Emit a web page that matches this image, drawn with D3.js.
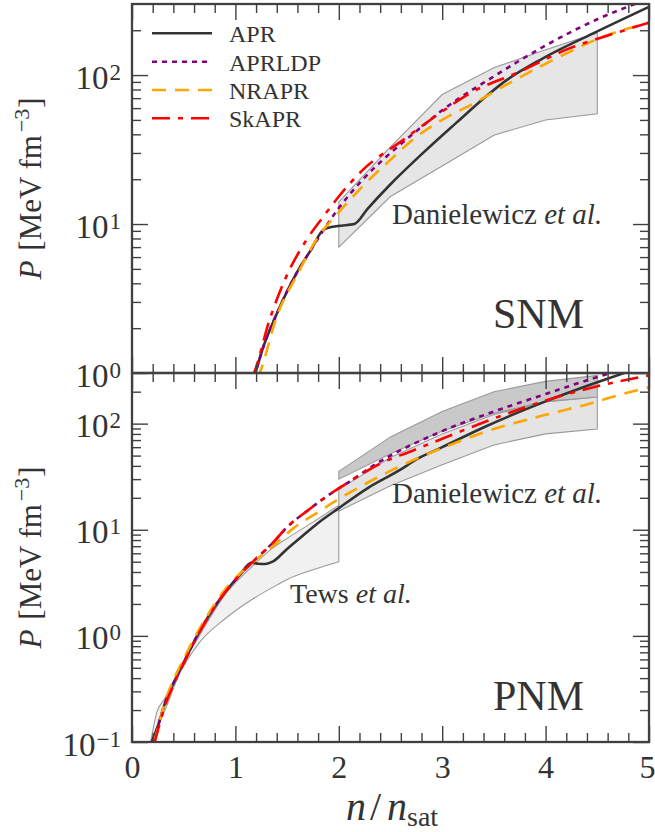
<!DOCTYPE html>
<html><head><meta charset="utf-8">
<script src="https://cdn.jsdelivr.net/npm/d3@7"></script>
<style>
body{margin:0;background:#fff}
svg{display:block}
text{font-family:"Liberation Serif","Times New Roman",serif;fill:#333}
</style>
</head><body>
<svg id="c" width="655" height="832"></svg>
<script>
// ---------------- DATA ----------------
const xTickValues = [0, 1, 2, 3, 4, 5];
const yMajorSNM = [1, 10, 100];
const yMajorPNM = [0.1, 1, 10, 100];
const seriesNames = ["APR", "APRLDP", "NRAPR", "SkAPR"];

// Symmetric nuclear matter (upper panel)
const aprSNM_n    = [1.17, 1.19, 1.27, 1.40, 1.59, 1.73, 1.856, 1.99, 2.15, 2.28, 2.50, 2.81, 3.13, 3.42, 3.58, 3.97, 4.49, 5.0];
const aprSNM_p    = [0.93, 1.0, 1.5, 2.5, 4.67, 6.7, 9.2, 9.7, 10.0, 12.7, 18.5, 29.8, 47.4, 71.5, 88, 129, 195, 287];
const aprldpSNM_n = [1.17, 1.19, 1.27, 1.40, 1.59, 1.73, 1.856, 2.0, 2.25, 2.5, 2.75, 3.0, 3.5, 4.0, 4.5, 5.0];
const aprldpSNM_p = [0.93, 1.0, 1.5, 2.5, 4.67, 6.7, 9.2, 12.8, 20.5, 30, 42, 58, 98, 158, 237, 325];
const nraprSNM_n  = [1.215, 1.235, 1.4, 1.6, 1.8, 2.0, 2.25, 2.5, 2.75, 3.0, 3.33, 3.58, 4.07, 4.55, 5.0];
const nraprSNM_p  = [0.93, 1.0, 2.4, 4.6, 8.2, 12.0, 18.5, 27, 38.5, 50, 66, 83, 126, 180, 225];
const skaprSNM_n  = [1.16, 1.18, 1.33, 1.49, 1.686, 1.85, 2.0, 2.23, 2.62, 2.97, 3.26, 3.745, 4.23, 4.61, 5.0];
const skaprSNM_p  = [0.93, 1.0, 2.27, 4.4, 7.8, 11.2, 15.3, 23, 36.6, 55, 75, 105, 151, 185, 225];

// Danielewicz et al. flow constraint, SNM
const danSNM_n     = [2.0, 2.5, 3.0, 3.5, 4.0, 4.5];
const danSNM_lower = [7.0, 15.3, 24.5, 39.5, 50, 55];
const danSNM_upper = [14.1, 33, 74, 112, 148, 192];

// Pure neutron matter (lower panel)
const aprPNM_n    = [0.19, 0.24, 0.32, 0.42, 0.515, 0.61, 0.74, 0.87, 1.03, 1.16, 1.22, 1.29, 1.36, 1.5, 1.64, 1.8, 2.0, 2.28, 2.6, 2.75, 3.0, 3.42, 4.0, 4.5, 5.0];
const aprPNM_p    = [0.1, 0.131, 0.234, 0.39, 0.60, 0.92, 1.53, 2.36, 3.64, 4.9, 4.78, 4.76, 5.0, 6.6, 8.6, 11.6, 16.0, 24.7, 37, 46, 60, 94, 162, 245, 360];
const aprldpPNM_n = [0.20, 0.24, 0.32, 0.42, 0.515, 0.61, 0.74, 0.87, 1.03, 1.16, 1.36, 1.5, 1.7, 1.9, 2.1, 2.4, 2.5, 3.0, 3.5, 4.0, 4.5, 5.0];
const aprldpPNM_p = [0.1, 0.131, 0.234, 0.39, 0.60, 0.92, 1.53, 2.36, 3.64, 4.9, 7.5, 10.6, 15.2, 21.2, 28.3, 44, 50, 85, 130, 190, 275, 380];
const nraprPNM_n  = [0.215, 0.26, 0.32, 0.42, 0.515, 0.61, 0.74, 0.87, 1.03, 1.16, 1.36, 1.56, 1.83, 2.0, 2.3, 2.6, 2.84, 3.13, 3.42, 3.71, 4.07, 4.39, 4.71, 5.0];
const nraprPNM_p  = [0.1, 0.145, 0.24, 0.42, 0.65, 0.98, 1.62, 2.5, 3.75, 4.85, 7.0, 10.3, 15.3, 19.5, 28.5, 40, 51, 66, 84, 102, 126, 151, 186, 220];
const skaprPNM_n  = [0.22, 0.26, 0.32, 0.42, 0.515, 0.61, 0.74, 0.87, 1.03, 1.16, 1.36, 1.5, 1.7, 1.9, 2.1, 2.4, 2.7, 3.0, 3.5, 4.0, 4.5, 5.0];
const skaprPNM_p  = [0.1, 0.14, 0.22, 0.38, 0.59, 0.91, 1.52, 2.36, 3.64, 4.9, 7.5, 10.6, 15.2, 21.2, 28.3, 42, 55, 72, 112, 165, 225, 285];

// Tews et al. band (PNM)
const tews_n     = [0.18, 0.24, 0.32, 0.45, 0.65, 0.9, 1.16, 1.35, 1.5, 1.75, 2.0];
const tews_lower = [0.1, 0.14, 0.2, 0.42, 0.86, 1.45, 2.2, 2.83, 3.4, 4.2, 5.0];
const tews_upper = [0.1, 0.19, 0.26, 0.47, 1.0, 2.45, 4.5, 6.6, 8.3, 11.8, 17];

// Danielewicz et al. bands (PNM): soft and stiff
const danPNM_n         = [2.0, 2.5, 3.0, 3.5, 4.0, 4.5];
const danPNMsoft_lower = [15, 26, 41, 63, 80, 89];
const danPNMsoft_upper = [24, 48, 80, 122, 160, 178];
const danPNMstiff_lower = [30, 52, 85, 125, 162, 178];
const danPNMstiff_upper = [35.5, 75, 130, 200, 250, 285];

// ---------------- LAYOUT ----------------
const L = 132, R = 649;
const topA = 4, botA = 373, topB = 373, botB = 742;
const frameColor = "#404040";
const font = "'Liberation Serif','Times New Roman',serif";

const svg = d3.select("#c");
const x = d3.scaleLinear().domain([0, 5]).range([L, R]);
const ySNM = d3.scaleLog().domain([1, 300]).range([botA, topA]);
const yPNM = d3.scaleLog().domain([0.1, 300]).range([botB, topB]);

const styles = {
  APR:    {color: "#333333", dash: null},
  APRLDP: {color: "#800080", dash: "5,5"},
  NRAPR:  {color: "#FFA500", dash: "14,9"},
  SkAPR:  {color: "#FF0000", dash: "18,8,5,8"}
};

const defs = svg.append("defs");
function clip(id, top, bot) {
  defs.append("clipPath").attr("id", id).append("rect")
    .attr("x", L).attr("y", top).attr("width", R - L).attr("height", bot - top);
}
clip("clipA", topA, botA);
clip("clipB", topB, botB);

function zip(ns, ps) { return ns.map((n, i) => ({n: n, p: ps[i]})); }
function zip3(ns, lo, hi) { return ns.map((n, i) => ({n: n, lo: lo[i], hi: hi[i]})); }

function drawBand(g, yS, ns, lo, hi, fill, curve) {
  const area = d3.area().x(d => x(d.n)).y0(d => yS(d.lo)).y1(d => yS(d.hi)).curve(curve || d3.curveLinear);
  g.append("path").datum(zip3(ns, lo, hi)).attr("d", area)
    .attr("fill", fill).attr("stroke", "#9a9a9a").attr("stroke-width", 1.1);
}
function drawCurve(g, yS, ns, ps, name) {
  const line = d3.line().x(d => x(d.n)).y(d => yS(d.p)).curve(d3.curveMonotoneX);
  const st = styles[name];
  g.append("path").datum(zip(ns, ps)).attr("d", line)
    .attr("fill", "none").attr("stroke", st.color).attr("stroke-width", 2.6)
    .attr("stroke-dasharray", st.dash);
}

// ---------- Upper panel (SNM) ----------
const gA = svg.append("g").attr("clip-path", "url(#clipA)");
drawBand(gA, ySNM, danSNM_n, danSNM_lower, danSNM_upper, "#e6e6e6");
drawCurve(gA, ySNM, aprSNM_n, aprSNM_p, "APR");
drawCurve(gA, ySNM, aprldpSNM_n, aprldpSNM_p, "APRLDP");
drawCurve(gA, ySNM, nraprSNM_n, nraprSNM_p, "NRAPR");
drawCurve(gA, ySNM, skaprSNM_n, skaprSNM_p, "SkAPR");

// ---------- Lower panel (PNM) ----------
const gB = svg.append("g").attr("clip-path", "url(#clipB)");
drawBand(gB, yPNM, tews_n, tews_lower, tews_upper, "#f1f1f1", d3.curveMonotoneX);
drawBand(gB, yPNM, danPNM_n, danPNMsoft_lower, danPNMsoft_upper, "#e4e4e4");
drawBand(gB, yPNM, danPNM_n, danPNMstiff_lower, danPNMstiff_upper, "#c9c9c9");
drawCurve(gB, yPNM, aprPNM_n, aprPNM_p, "APR");
drawCurve(gB, yPNM, aprldpPNM_n, aprldpPNM_p, "APRLDP");
drawCurve(gB, yPNM, nraprPNM_n, nraprPNM_p, "NRAPR");
drawCurve(gB, yPNM, skaprPNM_n, skaprPNM_p, "SkAPR");

// ---------- Axes ----------
const xMinor = d3.range(0, 5.0001, 0.2).filter(v => Math.abs(v - Math.round(v)) > 1e-6);
function minorLog(domain) {
  const out = [];
  const lo = Math.round(Math.log10(domain[0])), hi = Math.ceil(Math.log10(domain[1]));
  for (let e = lo; e < hi; e++) for (let m = 2; m <= 9; m++) {
    const v = m * Math.pow(10, e);
    if (v < domain[1] * 0.999) out.push(v);
  }
  return out;
}
function styleAxis(sel) {
  sel.select(".domain").remove();
  sel.selectAll(".tick line").attr("stroke", frameColor).attr("stroke-width", 1.4);
  sel.attr("font-family", font);
}
function expLabel(d) {
  const e = Math.round(Math.log10(d));
  return (e < 0 ? "\u2212" : "") + Math.abs(e);
}

function panelAxes(yS, top, bot, majors, showX) {
  const g = svg.append("g");
  const xb = g.append("g").attr("transform", `translate(0,${bot})`)
    .call(d3.axisBottom(x).tickValues(xTickValues).tickSize(-16).tickSizeOuter(0)
      .tickFormat(showX ? d3.format("d") : ""));
  styleAxis(xb);
  xb.selectAll(".tick text").attr("y", 36).attr("dy", 0).attr("font-size", 32).attr("fill", "#333")
    .attr("text-anchor", d => d === 5 ? "end" : "middle")
    .attr("x", d => d === 5 ? 655 - R : 0);
  styleAxis(g.append("g").attr("transform", `translate(0,${bot})`)
    .call(d3.axisBottom(x).tickValues(xMinor).tickSize(-9).tickSizeOuter(0).tickFormat("")));
  styleAxis(g.append("g").attr("transform", `translate(0,${top})`)
    .call(d3.axisTop(x).tickValues(xTickValues).tickSize(-16).tickSizeOuter(0).tickFormat("")));
  styleAxis(g.append("g").attr("transform", `translate(0,${top})`)
    .call(d3.axisTop(x).tickValues(xMinor).tickSize(-9).tickSizeOuter(0).tickFormat("")));
  const yl = g.append("g").attr("transform", `translate(${L},0)`)
    .call(d3.axisLeft(yS).tickValues(majors).tickSize(-16).tickSizeOuter(0).tickFormat(""));
  styleAxis(yl);
  yl.selectAll(".tick text").each(function(d) {
    const t = d3.select(this);
    t.text(null).attr("x", -11).attr("y", 13).attr("dy", 0)
      .attr("text-anchor", "end").attr("font-size", 33).attr("fill", "#333");
    t.append("tspan").text("10");
    t.append("tspan").attr("dy", -9).attr("dx", 1).attr("font-size", 23).text(expLabel(d));
  });
  styleAxis(g.append("g").attr("transform", `translate(${L},0)`)
    .call(d3.axisLeft(yS).tickValues(minorLog(yS.domain())).tickSize(-9).tickSizeOuter(0).tickFormat("")));
  styleAxis(g.append("g").attr("transform", `translate(${R},0)`)
    .call(d3.axisRight(yS).tickValues(majors).tickSize(-16).tickSizeOuter(0).tickFormat("")));
  styleAxis(g.append("g").attr("transform", `translate(${R},0)`)
    .call(d3.axisRight(yS).tickValues(minorLog(yS.domain())).tickSize(-9).tickSizeOuter(0).tickFormat("")));
  g.append("rect").attr("x", L).attr("y", top).attr("width", R - L).attr("height", bot - top)
    .attr("fill", "none").attr("stroke", frameColor).attr("stroke-width", 2.3);
}
panelAxes(ySNM, topA, botA, yMajorSNM, false);
panelAxes(yPNM, topB, botB, yMajorPNM, true);

// ---------- Y axis labels ----------
function yLabel(cy) {
  const t = svg.append("text").attr("transform", `translate(41,${cy}) rotate(-90)`)
    .attr("text-anchor", "middle").attr("font-size", 31).attr("fill", "#333");
  t.append("tspan").attr("font-style", "italic").text("P");
  t.append("tspan").attr("dx", 10).text("[MeV");
  t.append("tspan").attr("dx", 7).text("fm");
  t.append("tspan").attr("font-size", 22).attr("dy", -12).attr("dx", 3).text("\u22123");
  t.append("tspan").attr("dy", 12).attr("dx", 1).text("]");
}
yLabel((topA + botA) / 2);
yLabel((topB + botB) / 2);

// ---------- X axis label ----------
const xl = svg.append("text").attr("x", 392).attr("y", 820).attr("text-anchor", "middle")
  .attr("font-size", 40).attr("fill", "#333");
xl.append("tspan").attr("font-style", "italic").text("n");
xl.append("tspan").attr("dx", 4).text("/");
xl.append("tspan").attr("dx", 6).attr("font-style", "italic").text("n");
xl.append("tspan").attr("font-size", 28).attr("dy", 6).text("sat");

// ---------- Annotations ----------
function etal(xp, yp, main, fs) {
  const t = svg.append("text").attr("x", xp).attr("y", yp).attr("font-size", fs).attr("fill", "#333");
  t.append("tspan").text(main + " ");
  t.append("tspan").attr("font-style", "italic").text("et al.");
}
etal(392, 224, "Danielewicz", 29);
etal(392, 503, "Danielewicz", 29);
etal(290, 603, "Tews", 28);
svg.append("text").attr("x", 493).attr("y", 328).attr("font-size", 42).attr("fill", "#333").text("SNM");
svg.append("text").attr("x", 493).attr("y", 710).attr("font-size", 42).attr("fill", "#333").text("PNM");

// ---------- Legend ----------
const legRows = [33.3, 61.7, 90, 118.3];
const leg = svg.append("g");
seriesNames.forEach((name, i) => {
  const st = styles[name];
  leg.append("line").attr("x1", 152).attr("x2", 212).attr("y1", legRows[i]).attr("y2", legRows[i])
    .attr("stroke", st.color).attr("stroke-width", 2.6).attr("stroke-dasharray", st.dash);
  leg.append("text").attr("x", 229).attr("y", legRows[i] + 9).attr("font-size", 24)
    .attr("fill", "#333").text(name);
});
</script>
</body></html>
